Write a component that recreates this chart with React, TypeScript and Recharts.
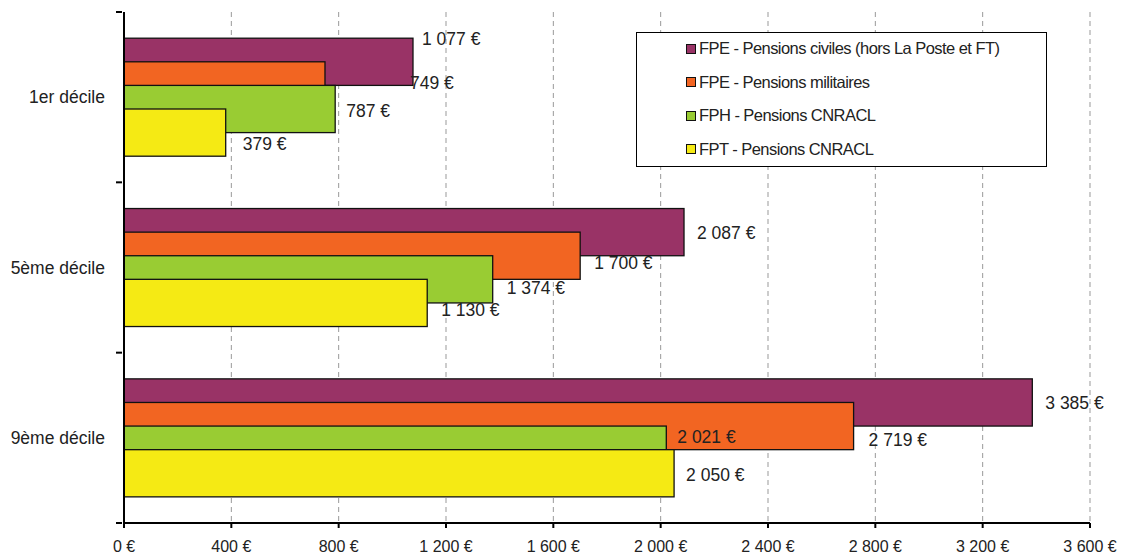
import React from "react"
import { BarChart, Bar, XAxis, YAxis, CartesianGrid, Legend, LabelList } from "recharts"

const categories = ["1er décile", "5ème décile", "9ème décile"]
const fpeCiviles = [1077, 2087, 3385]
const fpeMilitaires = [749, 1700, 2719]
const fphCnracl = [787, 1374, 2021]
const fptCnracl = [379, 1130, 2050]
const xTicks = [0, 400, 800, 1200, 1600, 2000, 2400, 2800, 3200, 3600]

const SERIES = [
  { key: "civ", name: "FPE - Pensions civiles (hors La Poste et FT)", color: "#993366" },
  { key: "mil", name: "FPE - Pensions militaires", color: "#F26522" },
  { key: "fph", name: "FPH - Pensions CNRACL", color: "#99CC33" },
  { key: "fpt", name: "FPT - Pensions CNRACL", color: "#F5EA14" },
]

const data = categories.map((name, i) => ({
  name,
  civ: fpeCiviles[i],
  mil: fpeMilitaires[i],
  fph: fphCnracl[i],
  fpt: fptCnracl[i],
}))

// manual nudges of the value labels, like in the original Excel chart: [dx, dy] per series/category
const LABEL_NUDGE: Record<string, [number, number][]> = {
  civ: [[9, -23], [13, 1], [13, 1]],
  mil: [[85, -2], [14, 7], [15, 14]],
  fph: [[11, 2], [14, 9], [11, -13]],
  fpt: [[17, 11], [14, 7], [12, 2]],
}

const FONT = "'Liberation Sans', Arial, sans-serif"
const TXT = "#222"

const fmt = (v: number) => String(v).replace(/\B(?=(\d{3})+(?!\d))/g, " ") + " €"

// Excel-like 50% overlap: each bar is drawn twice as tall as its slot
const OverlapBar = (props: any) => {
  const { x, y, width, height, fill } = props
  return (
    <rect x={x} y={y - height / 2} width={width} height={height * 2} fill={fill} stroke="#111" strokeWidth={1.3} />
  )
}

const makeLabel = (key: string) => (props: any) => {
  const { x, y, width, height, value, index } = props
  const [dx, dy] = LABEL_NUDGE[key][index] || [13, 0]
  return (
    <text
      x={x + width + dx}
      y={y + height / 2 + dy}
      dominantBaseline="central"
      fontSize={17.5}
      fontFamily={FONT}
      fill={TXT}
    >
      {fmt(value)}
    </text>
  )
}

const CategoryTick = (props: any) => {
  const { x, y, payload, index, visibleTicksCount } = props
  const half = payload?.offset || 85
  const axisX = x + 6
  return (
    <g>
      <line x1={axisX - 6} x2={axisX} y1={y - half} y2={y - half} stroke="#000" strokeWidth={2} />
      {index === (visibleTicksCount ?? 3) - 1 && (
        <line x1={axisX - 6} x2={axisX} y1={y + half} y2={y + half} stroke="#000" strokeWidth={2} />
      )}
      <text x={axisX - 17} y={y} textAnchor="end" dominantBaseline="central" fontSize={17.5} fontFamily={FONT} fill={TXT}>
        {payload.value}
      </text>
    </g>
  )
}

const ValueTick = (props: any) => {
  const { x, payload } = props
  return (
    <text x={x} y={551.5} textAnchor="middle" fontSize={16} fontFamily={FONT} fill={TXT}>
      {fmt(payload.value)}
    </text>
  )
}

const LegendBox = () => (
  <div
    style={{
      width: 411,
      height: 135,
      border: "1.5px solid #000",
      background: "#fff",
      boxSizing: "border-box",
      position: "relative",
      fontFamily: FONT,
      fontSize: 16.5,
      letterSpacing: -0.55,
      color: TXT,
    }}
  >
    {SERIES.map((s, i) => (
      <div
        key={s.key}
        style={{ position: "absolute", left: 49, top: 6 + i * 33.5, display: "flex", alignItems: "center", whiteSpace: "nowrap" }}
      >
        <span style={{ width: 8, height: 8, background: s.color, border: "1px solid #111", marginRight: 3 }} />
        {s.name}
      </div>
    ))}
  </div>
)

export default function App() {
  return (
    <div style={{ position: "absolute", left: 0, top: 0, width: 1123, height: 553, background: "#fff" }}>
      <BarChart
        width={1123}
        height={553}
        data={data}
        layout="vertical"
        margin={{ top: 12, right: 33, left: 0, bottom: 0 }}
        barSize={23.6}
        barGap={0}
      >
        <CartesianGrid horizontal={false} stroke="#999" strokeDasharray="5 4" />
        <XAxis
          type="number"
          domain={[0, 3600]}
          ticks={xTicks}
          height={30}
          axisLine={{ stroke: "#000", strokeWidth: 2 }}
          tickLine={{ stroke: "#000", strokeWidth: 2 }}
          tickSize={5}
          tick={<ValueTick />}
          interval={0}
        />
        <YAxis
          type="category"
          dataKey="name"
          width={124}
          axisLine={{ stroke: "#000", strokeWidth: 2 }}
          tickLine={false}
          tick={<CategoryTick />}
          interval={0}
        />
        <Legend
          layout="horizontal"
          verticalAlign="middle"
          align="center"
          wrapperStyle={{ left: 636, top: 32, width: 411, height: 135 }}
          content={() => <LegendBox />}
        />
        {SERIES.map((s) => (
          <Bar key={s.key} dataKey={s.key} name={s.name} fill={s.color} shape={<OverlapBar />} isAnimationActive={false}>
            <LabelList dataKey={s.key} content={makeLabel(s.key)} />
          </Bar>
        ))}
      </BarChart>
    </div>
  )
}
